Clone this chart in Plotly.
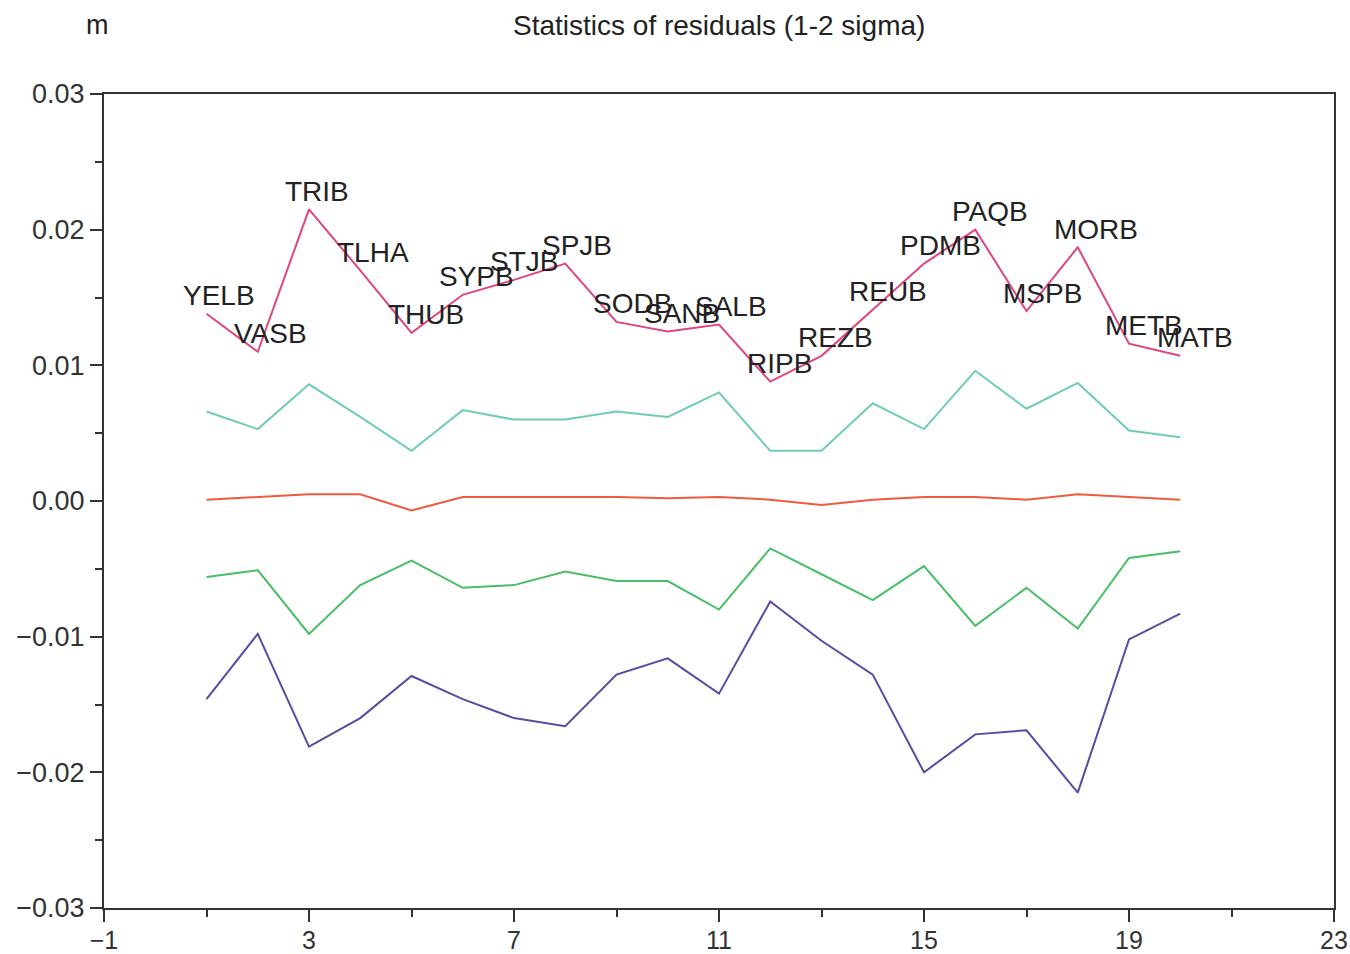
import plotly.graph_objects as go

stations = ["YELB", "VASB", "TRIB", "TLHA", "THUB", "SYPB", "STJB", "SPJB", "SODB", "SANB",
            "SALB", "RIPB", "REZB", "REUB", "PDMB", "PAQB", "MSPB", "MORB", "METB", "MATB"]
idx = list(range(1, 21))

upper2 = [0.0138, 0.0110, 0.0215, 0.0170, 0.0124, 0.0152, 0.0163, 0.0175, 0.0132, 0.0125,
          0.0130, 0.0088, 0.0107, 0.0141, 0.0175, 0.0200, 0.0140, 0.0187, 0.0116, 0.0107]
upper1 = [0.0066, 0.0053, 0.0086, 0.0062, 0.0037, 0.0067, 0.0060, 0.0060, 0.0066, 0.0062,
          0.0080, 0.0037, 0.0037, 0.0072, 0.0053, 0.0096, 0.0068, 0.0087, 0.0052, 0.0047]
mean = [0.0001, 0.0003, 0.0005, 0.0005, -0.0007, 0.0003, 0.0003, 0.0003, 0.0003, 0.0002,
        0.0003, 0.0001, -0.0003, 0.0001, 0.0003, 0.0003, 0.0001, 0.0005, 0.0003, 0.0001]
lower1 = [-0.0056, -0.0051, -0.0098, -0.0062, -0.0044, -0.0064, -0.0062, -0.0052, -0.0059, -0.0059,
          -0.0080, -0.0035, -0.0054, -0.0073, -0.0048, -0.0092, -0.0064, -0.0094, -0.0042, -0.0037]
lower2 = [-0.0146, -0.0098, -0.0181, -0.0160, -0.0129, -0.0146, -0.0160, -0.0166, -0.0128, -0.0116,
          -0.0142, -0.0074, -0.0103, -0.0128, -0.0200, -0.0172, -0.0169, -0.0215, -0.0102, -0.0083]

series = [
    (upper2, "#e0457f"),
    (upper1, "#6fcdb6"),
    (mean, "#ee5b3d"),
    (lower1, "#48bf66"),
    (lower2, "#5a4aa3"),
]

fig = go.Figure()
for vals, col in series:
    fig.add_trace(go.Scatter(x=idx, y=vals, mode="lines",
                             line=dict(color=col, width=2), showlegend=False,
                             hoverinfo="skip"))

font_main = "Liberation Sans, Arial, sans-serif"

for xi, yi, name in zip(idx, upper2, stations):
    fig.add_annotation(x=xi - 0.5, y=yi, text=name, showarrow=False,
                       xanchor="left", yanchor="middle", yshift=18,
                       font=dict(family=font_main, size=28, color="#222222"))

fig.add_annotation(xref="paper", yref="paper", x=0.5, y=1.0, yshift=69,
                   text="Statistics of residuals (1-2 sigma)", showarrow=False,
                   xanchor="center", yanchor="middle",
                   font=dict(family=font_main, size=28, color="#222222"))
fig.add_annotation(xref="paper", yref="paper", x=-0.005, y=1.0, yshift=69,
                   text="m", showarrow=False, xanchor="center", yanchor="middle",
                   font=dict(family=font_main, size=27, color="#222222"))

axis_common = dict(showline=True, linecolor="#333333", linewidth=2, mirror=True,
                   showgrid=False, zeroline=False, ticks="outside",
                   tickcolor="#333333", tickwidth=2, ticklen=12)

fig.update_xaxes(range=[-1, 23], tick0=-1, dtick=4,
                 tickfont=dict(family=font_main, size=25, color="#333333"),
                 ticklabelstandoff=-3,
                 minor=dict(tick0=-1, dtick=2, ticks="outside", ticklen=7,
                            tickcolor="#333333", tickwidth=2),
                 **axis_common)
fig.update_yaxes(range=[-0.03, 0.03], tick0=0, dtick=0.01, tickformat=".2f",
                 tickfont=dict(family=font_main, size=27, color="#333333"),
                 minor=dict(dtick=0.005, ticks="outside", ticklen=7,
                            tickcolor="#333333", tickwidth=2),
                 **axis_common)

fig.update_layout(width=1350, height=954,
                  margin=dict(l=104, r=16, t=94, b=46, autoexpand=False),
                  paper_bgcolor="white", plot_bgcolor="white",
                  font=dict(family=font_main))

fig.write_html("out.html")
